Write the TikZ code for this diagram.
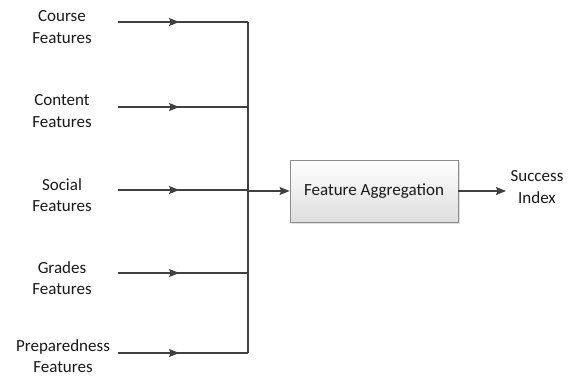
\documentclass[tikz,border=0pt]{standalone}
\usepackage{fontspec}
\setmainfont{Carlito}
\usetikzlibrary{arrows.meta,decorations.markings,shadows}
\begin{document}
\begin{tikzpicture}[x=1pt,y=-1pt,
  every node/.style={font=\fontsize{17}{21.5}\selectfont, text=black!90},
  lbl/.style={align=center, inner sep=0pt},
  wire/.style={draw=black!75, line width=1.2pt},
  tip/.style={-{Stealth[length=10pt,width=8pt,inset=1.5pt]}},
  midarrow/.style={postaction={decorate}, decoration={markings,
     mark=at position #1 with {\arrow{Stealth[length=10pt,width=8pt,inset=1.5pt]}}}},
  procbox/.style={draw=black!45, line width=0.8pt, top color=white, bottom color=black!13,
     minimum width=168pt, minimum height=62pt, inner sep=0pt,
     drop shadow={shadow xshift=2pt, shadow yshift=-2pt, opacity=0.25}}
]
\useasboundingbox (0,0) rectangle (569,377);

\node[lbl] (l1) at (62,27) {Course\\Features};
\node[lbl] (l2) at (62,111) {Content\\Features};
\node[lbl] (l3) at (62,195) {Social\\Features};
\node[lbl] (l4) at (62,278) {Grades\\Features};
\node[lbl] (l5) at (63,356) {Preparedness\\Features};

\coordinate (s1) at (118,22);
\coordinate (s2) at (118,107);
\coordinate (s3) at (118,190);
\coordinate (s4) at (118,273);
\coordinate (s5) at (118,353);
\coordinate (j1) at (248,22);
\coordinate (j2) at (248,107);
\coordinate (j3) at (248,190);
\coordinate (j4) at (248,273);
\coordinate (j5) at (248,353);

\node[procbox] (agg) at (374,191) {Feature Aggregation};
\node[lbl] (out) at (537,187) {Success\\Index};
\coordinate (o) at (506,191);

\foreach \i in {1,...,5}{
  \path[wire, midarrow=0.47] (s\i) -- (j\i);
}
\draw[wire] (j1) -- (j5);
\draw[wire, tip] (j3 |- agg.west) -- (agg.west);
\draw[wire, tip] (agg.east) -- (o);
\end{tikzpicture}
\end{document}
